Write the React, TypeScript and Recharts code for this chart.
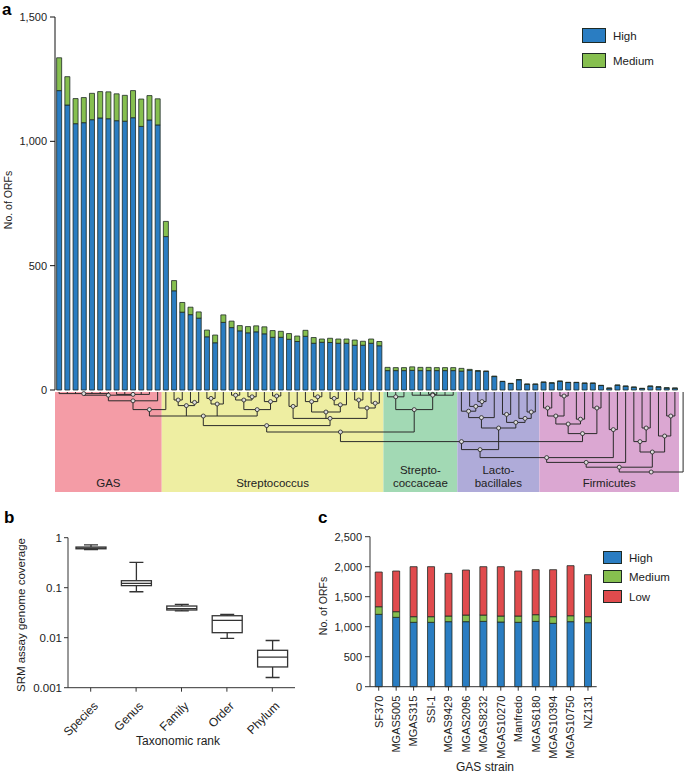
import React from "react";
import { BarChart, Bar, XAxis, YAxis, ComposedChart } from "recharts";

const FONT = "'Liberation Sans', Arial, Helvetica, sans-serif";
const BLUE = "#2a7dc2";
const GREEN = "#86bf4f";
const RED = "#e04b4d";
const EDGE = "#1e2a24";
const INK = "#222";

// ---- panel a: ORFs covered per genome (76 genomes, ordered by clade)
const highA = [
  1204, 1146, 1071, 1075, 1087, 1094, 1091, 1083, 1081, 1095, 1060, 1086, 1066,
  617, 399, 313, 303, 289, 214, 190, 272, 251, 238, 230, 234, 226, 212, 212, 204,
  195, 216, 188, 192, 191, 188, 188, 180, 180, 188, 178,
  78, 78, 78, 79, 78, 78, 78, 78, 78,
  76, 79, 76, 75, 54, 34, 26, 41, 23, 23,
  31, 28, 35, 30, 30, 27, 27, 18, 7, 19, 15, 11, 6, 15, 12, 8, 7,
];
const mediumA = [
  132, 114, 101, 101, 106, 106, 108, 108, 104, 109, 110, 98, 105,
  61, 41, 39, 30, 25, 27, 31, 30, 26, 21, 25, 24, 28, 27, 24, 23,
  22, 24, 23, 13, 17, 17, 17, 21, 16, 17, 17,
  13, 12, 12, 14, 13, 13, 12, 12, 12,
  11, 4, 2, 1, 2, 1, 1, 1, 1, 1,
  1, 1, 1, 1, 1, 1, 1, 1, 1, 1, 1, 1, 1, 1, 1, 1, 1,
];
const ticksA = [0, 500, 1000, 1500];

const cladeNames = ["GAS", "Streptococcus", "Strepto-|coccaceae", "Lacto-|bacillales", "Firmicutes"];
const cladeStart = [0, 13, 40, 49, 59];
const cladeEnd = [13, 40, 49, 59, 76];
const cladeFill = ["#f49ca6", "#eeeea2", "#a2d9b4", "#afabd9", "#dba7d2"];

// phylogeny under the bars: [height, ...children], numbers are genome indices
const gasTree = [0.11, [0.04, [0.02, 0, 1, 2, 3, 4, 5, 6], [0.03, 7, 8, 9, 10, 11]], 12];
const strepTree = [0.42,
  [0.3, [0.22, gasTree, 13], [0.17, [0.1, 14, 15], [0.13, 16, 17]], [0.15, [0.08, 18, 19], 20],
    [0.22, [0.1, [0.04, 21, 22], [0.06, 23, 24]], [0.12, 25, [0.05, 26, 27]]]],
  [0.33, [0.18, 28, 29], [0.25, [0.12, 30, [0.06, 31, 32]], [0.16, [0.08, 33, 34], 35]],
    [0.2, [0.1, 36, 37], [0.14, 38, 39]]],
];
const scTree = [0.22, [0.06, 40, 41, 42], [0.04, 43, 44, [0.03, 45, 46], 47, 48]];
const f1Tree = [0.52, [0.4, [0.3, [0.2, 59, 60], [0.05, 61, 62]], [0.34, 63, 64]], [0.2, 65, 66]];
const lactoTree = [0.45, [0.32, [0.24, 49, [0.18, 50, [0.12, 51, 52]]], 53],
  [0.38, [0.28, 54, 55], [0.33, 56, [0.25, 57, 58]]]];
const f3Tree = [0.75, [0.62, 70, [0.45, 71, 72]], [0.55, 73, [0.3, 74, 75]]];
const treeRoot = [1.0,
  [0.94, [0.88, [0.82, [0.72, [0.62, [0.5, strepTree, scTree], f1Tree], lactoTree], [0.47, 67, 68]], 69], f3Tree],
  76];

// ---- panel b: SRM assay genome coverage by taxonomic rank
const ranks = ["Species", "Genus", "Family", "Order", "Phylum"];
const covMin = [0.58, 0.083, 0.0343, 0.0097, 0.0016];
const covQ1 = [0.6, 0.11, 0.0358, 0.0126, 0.0026];
const covMed = [0.62, 0.122, 0.038, 0.0223, 0.0041];
const covQ3 = [0.65, 0.138, 0.043, 0.0275, 0.0056];
const covMax = [0.72, 0.32, 0.0466, 0.0294, 0.0088];
const ticksB = [0.001, 0.01, 0.1, 1];

// ---- panel c: GAS strains
const strains = ["SF370", "MGAS5005", "MGAS315", "SSI-1", "MGAS9429", "MGAS2096", "MGAS8232",
  "MGAS10270", "Manfredo", "MGAS6180", "MGAS10394", "MGAS10750", "NZ131"];
const highC = [1206, 1156, 1073, 1073, 1084, 1084, 1089, 1078, 1073, 1089, 1056, 1084, 1067];
const mediumC = [127, 94, 94, 94, 94, 110, 105, 100, 105, 111, 111, 99, 100];
const lowC = [578, 678, 833, 833, 711, 750, 806, 822, 750, 750, 783, 834, 700];
const ticksC = [0, 500, 1000, 1500, 2000, 2500];

const dataA = highA.map((h, i) => ({ id: i, high: h, medium: mediumA[i] }));
const dataB = ranks.map((r, i) => ({
  rank: r, min: covMin[i], q1: covQ1[i], med: covMed[i], q3: covQ3[i], max: covMax[i],
}));
const dataC = strains.map((s, i) => ({ strain: s, high: highC[i], medium: mediumC[i], low: lowC[i] }));

// panel a plot geometry (shared with the tree drawn below it)
const A_LEFT = 55;
const A_RIGHT = 679;
const bandA = (A_RIGHT - A_LEFT) / highA.length;
const leafX = (i: number) => A_LEFT + (i + 0.5) * bandA;
const TREE_TOP = 392;
const TREE_SPAN = 80;

function layoutTree(node: any, segs: number[][], dots: number[][]): { x: number; y: number } {
  if (typeof node === "number") return { x: leafX(node), y: TREE_TOP };
  const [h, ...kids] = node;
  const pts = kids.map((k: any) => layoutTree(k, segs, dots));
  const y = TREE_TOP + h * TREE_SPAN;
  const xs = pts.map((p: any) => p.x);
  const x0 = Math.min(...xs);
  const x1 = Math.max(...xs);
  pts.forEach((p: any) => segs.push([p.x, p.y, p.x, y]));
  segs.push([x0, y, x1, y]);
  const x = (x0 + x1) / 2;
  dots.push([x, y]);
  return { x, y };
}

const fmt = (v: number) => v.toLocaleString("en-US");
const tickStyle = { fontSize: 11, fill: INK, fontFamily: FONT };

const BoxShape = (props: any) => {
  const { x, y, width, height, payload } = props;
  const lo = Math.log10(payload.min);
  const hi = Math.log10(payload.max);
  const py = (v: number) => y + (height * (hi - Math.log10(v))) / (hi - lo);
  const cx = x + width / 2;
  const cap = 7;
  return (
    <g stroke="#333" strokeWidth={1.3} fill="none">
      <line x1={cx} y1={py(payload.max)} x2={cx} y2={py(payload.q3)} />
      <line x1={cx} y1={py(payload.q1)} x2={cx} y2={py(payload.min)} />
      <line x1={cx - cap} y1={py(payload.max)} x2={cx + cap} y2={py(payload.max)} />
      <line x1={cx - cap} y1={py(payload.min)} x2={cx + cap} y2={py(payload.min)} />
      <rect x={x} y={py(payload.q3)} width={width} height={py(payload.q1) - py(payload.q3)} fill="#fff" />
      <line x1={x} y1={py(payload.med)} x2={x + width} y2={py(payload.med)} />
    </g>
  );
};

const RankTick = (props: any) => {
  const { x, y, payload } = props;
  return (
    <text x={x + 5} y={y + 10} textAnchor="end" transform={`rotate(-45 ${x + 5} ${y + 10})`}
      style={{ fontSize: 12, fill: INK, fontFamily: FONT }} dy="0.35em">
      {payload.value}
    </text>
  );
};

const StrainTick = (props: any) => {
  const { x, y, payload } = props;
  return (
    <text x={x} y={y + 3} textAnchor="end" transform={`rotate(-90 ${x} ${y + 3})`} dy="0.35em"
      style={{ fontSize: 11, fill: INK, fontFamily: FONT }}>
      {payload.value}
    </text>
  );
};

const Swatch = ({ left, top, color, label, w, h }: any) => (
  <>
    <div style={{ position: "absolute", left, top, width: w, height: h, background: color, border: `1px solid ${EDGE}`, boxSizing: "border-box" }} />
    <div style={{ position: "absolute", left: left + w + 7, top: top + h / 2 - 8, fontSize: 11.5, lineHeight: "16px", fontFamily: FONT, color: INK }}>{label}</div>
  </>
);

const text = (style: any, s: string, rot = false) => (
  <div style={{
    position: "absolute", fontFamily: FONT, color: INK, whiteSpace: "nowrap",
    transform: rot ? "translate(-50%, -50%) rotate(-90deg)" : "translate(-50%, -50%)", ...style,
  }}>{s}</div>
);

export default function App() {
  const segs: number[][] = [];
  const dots: number[][] = [];
  layoutTree(treeRoot, segs, dots);

  return (
    <div style={{ position: "absolute", left: 0, top: 0, width: 685, height: 775, background: "#fff", fontFamily: FONT }}>
      {/* panel a */}
      <div style={{ position: "absolute", left: 2, top: 0, fontSize: 17, fontWeight: "bold" }}>a</div>
      <div style={{ position: "absolute", left: 0, top: 0 }}>
        <BarChart width={685} height={398} data={dataA} barCategoryGap="20%"
          margin={{ top: 17, right: 685 - A_RIGHT, bottom: 8, left: 0 }}>
          <XAxis dataKey="id" hide />
          <YAxis width={A_LEFT} domain={[0, 1500]} ticks={ticksA} tickFormatter={fmt} interval={0}
            tick={tickStyle} tickSize={5} tickMargin={3} stroke="#111" />
          <Bar dataKey="high" stackId="s" fill={BLUE} stroke={EDGE} strokeWidth={0.8} isAnimationActive={false} />
          <Bar dataKey="medium" stackId="s" fill={GREEN} stroke={EDGE} strokeWidth={0.8} isAnimationActive={false} />
        </BarChart>
      </div>
      {text({ left: 8, top: 200, fontSize: 10.5 }, "No. of ORFs", true)}
      <Swatch left={582} top={28} w={24} h={15} color={BLUE} label="High" />
      <Swatch left={582} top={53} w={24} h={15} color={GREEN} label="Medium" />

      <svg style={{ position: "absolute", left: 0, top: 0 }} width={685} height={500}>
        {cladeNames.map((n, i) => {
          const x0 = A_LEFT + cladeStart[i] * bandA;
          const x1 = A_LEFT + cladeEnd[i] * bandA;
          const lines = n.split("|");
          return (
            <g key={n}>
              <rect x={x0} y={TREE_TOP} width={x1 - x0} height={100} fill={cladeFill[i]} />
              {lines.map((l, k) => (
                <text key={l} x={(x0 + x1) / 2} y={487 - (lines.length - 1 - k) * 13.5} textAnchor="middle"
                  style={{ fontSize: 11.5, fill: INK, fontFamily: FONT }}>{l}</text>
              ))}
            </g>
          );
        })}
        {segs.map((s, i) => (
          <line key={i} x1={s[0]} y1={s[1]} x2={s[2]} y2={s[3]} stroke="#2a2a2a" strokeWidth={1} />
        ))}
        {dots.map((d, i) => (
          <circle key={i} cx={d[0]} cy={d[1]} r={2} fill="#ddd" stroke="#222" strokeWidth={0.8} />
        ))}
      </svg>

      {/* panel b */}
      <div style={{ position: "absolute", left: 4, top: 508, fontSize: 17, fontWeight: "bold" }}>b</div>
      <div style={{ position: "absolute", left: 0, top: 500 }}>
        <ComposedChart width={345} height={260} data={dataB} margin={{ top: 37.7, right: 50, bottom: 12.3, left: 0 }}>
          <XAxis dataKey="rank" interval={0} tick={<RankTick />} height={60} tickSize={4} stroke="#333" />
          <YAxis width={68} scale="log" type="number" domain={[0.001, 1]} ticks={ticksB} allowDataOverflow interval={0}
            tickFormatter={(v: number) => String(v)} tick={{ ...tickStyle, fontSize: 11.5 }} tickSize={4} tickMargin={2} stroke="#333" />
          <Bar dataKey={(d: any) => [d.min, d.max]} barSize={30} shape={<BoxShape />} isAnimationActive={false} />
        </ComposedChart>
      </div>
      {text({ left: 21, top: 615, fontSize: 11.5 }, "SRM assay genome coverage", true)}
      {text({ left: 178, top: 741, fontSize: 12 }, "Taxonomic rank")}

      {/* panel c */}
      <div style={{ position: "absolute", left: 318, top: 508, fontSize: 17, fontWeight: "bold" }}>c</div>
      <div style={{ position: "absolute", left: 300, top: 500 }}>
        <BarChart width={385} height={275} data={dataC} barCategoryGap="30%"
          margin={{ top: 36.7, right: 88.3, bottom: 8.3, left: 0 }}>
          <XAxis dataKey="strain" interval={0} tick={<StrainTick />} height={80} tickSize={4} stroke="#333" />
          <YAxis width={70} domain={[0, 2500]} ticks={ticksC} tickFormatter={fmt} interval={0}
            tick={tickStyle} tickSize={5} tickMargin={3} stroke="#333" />
          <Bar dataKey="high" stackId="c" fill={BLUE} stroke={EDGE} strokeWidth={0.8} isAnimationActive={false} />
          <Bar dataKey="medium" stackId="c" fill={GREEN} stroke={EDGE} strokeWidth={0.8} isAnimationActive={false} />
          <Bar dataKey="low" stackId="c" fill={RED} stroke={EDGE} strokeWidth={0.8} isAnimationActive={false} />
        </BarChart>
      </div>
      {text({ left: 323, top: 606, fontSize: 10.5 }, "No. of ORFs", true)}
      {text({ left: 485, top: 767, fontSize: 12 }, "GAS strain")}
      <Swatch left={603} top={551} w={19} h={13} color={BLUE} label="High" />
      <Swatch left={603} top={570} w={19} h={13} color={GREEN} label="Medium" />
      <Swatch left={603} top={590} w={19} h={13} color={RED} label="Low" />
    </div>
  );
}
